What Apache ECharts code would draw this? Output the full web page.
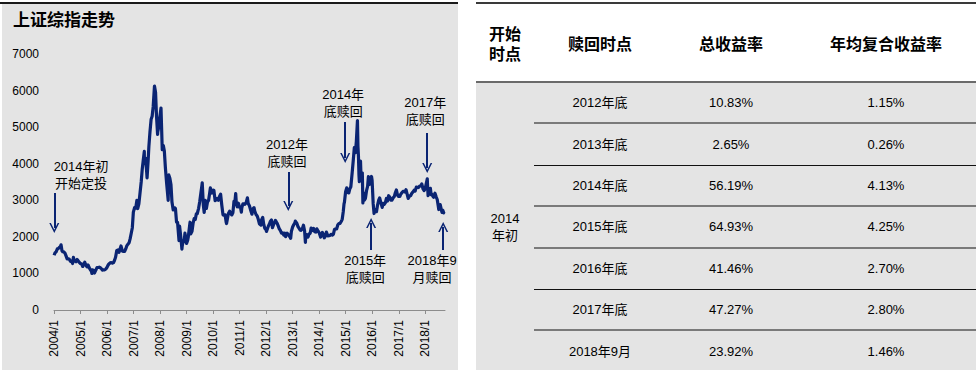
<!DOCTYPE html>
<html><head><meta charset="utf-8">
<script src="https://cdn.jsdelivr.net/npm/echarts@6/dist/echarts.min.js"></script>
<style>
body{margin:0;width:976px;height:375px;position:relative;overflow:hidden;background:#fff;font-family:"Liberation Sans","Noto Sans CJK SC",sans-serif;}
#panel{position:absolute;left:2px;top:4px;width:456px;height:366px;background:#e4e4e4;}
#panelTop{position:absolute;left:0;top:2px;width:458px;height:2px;background:#1a1a1a;}
#chart{position:absolute;left:0;top:0;width:460px;height:375px;}
.blk{position:absolute;}
.cell{position:absolute;display:flex;align-items:center;justify-content:center;text-align:center;color:#000;white-space:pre;}
.hd{font-family:"Noto Sans CJK SC",sans-serif;font-weight:bold;font-size:16px;line-height:20px;}
.bd{font-size:13px;line-height:17px;}
</style>
</head><body>
<div id="panelTop"></div>
<div id="panel"></div>
<div id="chart"></div>
<div id="table"></div>
<script>
// ---- chart data ----
const dates = [
'2004-01-02','2004-01-15','2004-01-30','2004-02-16','2004-02-27','2004-03-15','2004-03-31','2004-04-07','2004-04-20','2004-04-30','2004-05-14','2004-05-31','2004-06-15','2004-06-30','2004-07-15','2004-07-30','2004-08-16','2004-08-31','2004-09-13','2004-09-24','2004-09-30','2004-10-15','2004-10-29','2004-11-15','2004-11-30','2004-12-15','2004-12-31',
'2005-01-14','2005-01-31','2005-02-16','2005-02-28','2005-03-15','2005-03-31','2005-04-15','2005-04-29','2005-05-16','2005-05-31','2005-06-06','2005-06-10','2005-06-30','2005-07-11','2005-07-29','2005-08-15','2005-08-31','2005-09-15','2005-09-30','2005-10-14','2005-10-28','2005-11-15','2005-11-30','2005-12-15','2005-12-30',
'2006-01-16','2006-01-26','2006-02-15','2006-02-28','2006-03-15','2006-03-31','2006-04-14','2006-04-28','2006-05-15','2006-05-31','2006-06-15','2006-06-30','2006-07-12','2006-07-31','2006-08-15','2006-08-31','2006-09-15','2006-09-29','2006-10-16','2006-10-31','2006-11-15','2006-11-30','2006-12-15','2006-12-29',
'2007-01-15','2007-01-31','2007-02-16','2007-02-27','2007-03-15','2007-03-30','2007-04-16','2007-04-30','2007-05-15','2007-05-29','2007-05-30','2007-06-15','2007-06-29','2007-07-06','2007-07-20','2007-07-31','2007-08-15','2007-08-31','2007-09-14','2007-09-28','2007-10-16','2007-10-31','2007-11-13','2007-11-28','2007-11-30','2007-12-14','2007-12-28',
'2008-01-14','2008-01-31','2008-02-15','2008-02-29','2008-03-14','2008-03-31','2008-04-22','2008-04-25','2008-04-30','2008-05-15','2008-05-30','2008-06-13','2008-06-30','2008-07-15','2008-07-31','2008-08-15','2008-08-29','2008-09-18','2008-09-26','2008-10-15','2008-10-28','2008-10-31','2008-11-14','2008-11-28','2008-12-09','2008-12-31',
'2009-01-15','2009-01-23','2009-02-17','2009-02-27','2009-03-16','2009-03-31','2009-04-15','2009-04-30','2009-05-15','2009-05-27','2009-06-15','2009-06-30','2009-07-15','2009-07-31','2009-08-04','2009-08-19','2009-08-31','2009-09-15','2009-09-30','2009-10-15','2009-10-30','2009-11-13','2009-11-24','2009-11-30','2009-12-15','2009-12-31',
'2010-01-11','2010-01-29','2010-02-12','2010-02-26','2010-03-15','2010-03-31','2010-04-14','2010-04-30','2010-05-17','2010-05-31','2010-06-15','2010-06-30','2010-07-05','2010-07-30','2010-08-16','2010-08-31','2010-09-15','2010-09-30','2010-10-15','2010-10-29','2010-11-08','2010-11-17','2010-11-30','2010-12-15','2010-12-31',
'2011-01-14','2011-01-25','2011-01-31','2011-02-15','2011-02-28','2011-03-15','2011-03-31','2011-04-18','2011-04-29','2011-05-16','2011-05-31','2011-06-20','2011-06-30','2011-07-18','2011-07-29','2011-08-15','2011-08-31','2011-09-15','2011-09-30','2011-10-21','2011-10-31','2011-11-15','2011-11-30','2011-12-15','2011-12-30',
'2012-01-06','2012-01-31','2012-02-15','2012-02-29','2012-03-14','2012-03-28','2012-03-30','2012-04-16','2012-04-27','2012-05-08','2012-05-31','2012-06-15','2012-06-29','2012-07-16','2012-07-31','2012-08-15','2012-08-31','2012-09-14','2012-09-26','2012-09-28','2012-10-15','2012-10-31','2012-11-15','2012-11-30','2012-12-04','2012-12-14','2012-12-31',
'2013-01-15','2013-01-31','2013-02-06','2013-02-28','2013-03-15','2013-03-29','2013-04-15','2013-04-26','2013-05-15','2013-05-29','2013-06-14','2013-06-25','2013-06-28','2013-07-15','2013-07-31','2013-08-15','2013-08-30','2013-09-12','2013-09-30','2013-10-15','2013-10-31','2013-11-15','2013-11-29','2013-12-16','2013-12-31',
'2014-01-15','2014-01-20','2014-01-30','2014-02-14','2014-02-28','2014-03-12','2014-03-31','2014-04-10','2014-04-30','2014-05-15','2014-05-30','2014-06-16','2014-06-30','2014-07-15','2014-07-31','2014-08-15','2014-08-29','2014-09-15','2014-09-30','2014-10-15','2014-10-31','2014-11-14','2014-11-28','2014-12-09','2014-12-15','2014-12-31',
'2015-01-15','2015-01-30','2015-02-13','2015-02-27','2015-03-13','2015-03-31','2015-04-15','2015-04-30','2015-05-15','2015-05-28','2015-05-29','2015-06-12','2015-06-19','2015-06-26','2015-07-03','2015-07-08','2015-07-24','2015-07-31','2015-08-18','2015-08-26','2015-08-31','2015-09-15','2015-09-30','2015-10-15','2015-10-30','2015-11-10','2015-11-27','2015-11-30','2015-12-15','2015-12-23','2015-12-31',
'2016-01-15','2016-01-27','2016-01-29','2016-02-15','2016-02-29','2016-03-15','2016-03-31','2016-04-13','2016-04-29','2016-05-18','2016-05-31','2016-06-15','2016-06-30','2016-07-15','2016-07-29','2016-08-15','2016-08-31','2016-09-14','2016-09-30','2016-10-14','2016-10-31','2016-11-15','2016-11-29','2016-12-15','2016-12-30',
'2017-01-16','2017-01-26','2017-02-15','2017-02-28','2017-03-15','2017-03-31','2017-04-11','2017-04-28','2017-05-11','2017-05-31','2017-06-15','2017-06-30','2017-07-14','2017-07-31','2017-08-15','2017-08-31','2017-09-15','2017-09-29','2017-10-16','2017-10-31','2017-11-14','2017-11-30','2017-12-15','2017-12-29',
'2018-01-12','2018-01-29','2018-01-31','2018-02-09','2018-02-28','2018-03-13','2018-03-23','2018-03-30','2018-04-16','2018-04-27','2018-05-15','2018-05-31','2018-06-15','2018-06-29','2018-07-06','2018-07-26','2018-07-31','2018-08-15','2018-08-20','2018-08-31','2018-09-12','2018-09-14'
];
const closes = [
1497,1560,1590,1670,1675,1710,1742,1783,1620,1595,1590,1555,1480,1399,1400,1386,1330,1342,1270,1440,1396,1340,1320,1380,1340,1300,1266,
1260,1191,1250,1306,1230,1181,1230,1159,1100,1060,998,1100,1080,1010,1083,1160,1162,1170,1155,1130,1092,1100,1099,1120,1161,
1230,1258,1290,1299,1280,1298,1360,1440,1630,1641,1580,1672,1750,1612,1600,1601,1670,1752,1800,1837,1950,2099,2250,2675,
2800,2786,2998,2772,2900,3183,3500,3841,4100,4335,4050,4150,3820,3615,4060,4471,4870,5218,5300,5552,6124,5954,5300,4803,4871,5007,5261,
5522,4383,4500,4348,3900,3473,3000,3500,3693,3600,3433,2950,2736,2800,2775,2400,2397,1895,2293,1950,1665,1729,1900,1871,2100,1821,
1900,1991,2400,2082,2150,2373,2500,2477,2630,2632,2780,2959,3180,3412,3478,2870,2667,3000,2779,2950,2996,3180,3338,3195,3200,3277,
3273,2989,3018,3051,3000,3110,3166,2871,2600,2592,2600,2398,2363,2638,2700,2638,2600,2656,2970,2979,3186,2890,2820,2920,2808,
2800,2677,2791,2900,2905,2890,2928,3067,2911,2850,2743,2620,2762,2800,2701,2610,2568,2480,2359,2320,2468,2530,2333,2230,2199,
2148,2292,2350,2428,2460,2250,2263,2350,2396,2450,2373,2300,2225,2170,2103,2110,2047,2100,2004,2086,2100,2069,2020,1980,1959,2150,2269,
2330,2385,2432,2366,2280,2237,2180,2178,2230,2320,2160,1850,1979,2060,1994,2080,2098,2240,2175,2230,2141,2130,2220,2160,2116,
2030,1991,2033,2120,2056,1974,2033,2130,2026,2030,2039,2070,2048,2070,2202,2220,2217,2330,2364,2370,2420,2480,2683,2900,2950,3235,
3340,3210,3200,3310,3370,3748,4084,4442,4300,4620,4612,5178,4478,4192,3686,3507,4070,3664,3750,2927,3206,3005,3053,3262,3383,3650,3436,3445,3510,3651,3539,
2900,2638,2738,2750,2688,2870,3004,3066,2938,2807,2917,2890,2930,3050,2979,3125,3085,3002,3005,3064,3100,3206,3283,3140,3104,
3103,3159,3212,3242,3241,3223,3289,3155,3053,3117,3132,3192,3222,3273,3251,3361,3353,3349,3390,3393,3448,3317,3266,3307,
3429,3587,3481,3129,3259,3326,3152,3169,3110,3082,3192,3095,3022,2847,2747,2882,2876,2705,2668,2725,2656,2681
];
const yTicks = [0, 1000, 2000, 3000, 4000, 5000, 6000, 7000];
// annotations: arrow [date, fromValue, toValue], text [date, value, text]
const arrowDates  = ['2004-01-05','2012-11-01','2014-12-25','2018-01-28','2015-12-17','2018-09-05'];
const arrowFrom   = [3200, 3774, 5141, 4840, 1641, 1641];
const arrowTo     = [2242, 2844, 4156, 3883, 2379, 2270];
const noteDates   = ['2005-01-08','2012-10-15','2014-11-27','2018-01-01','2015-09-26','2018-04-05'];
const noteValues  = [3692, 4293, 5647, 5428, 1121, 1121];
const noteTexts   = ['2014年初\n开始定投','2012年\n底赎回','2014年\n底赎回','2017年\n底赎回','2015年\n底赎回','2018年9\n月赎回'];

// ---- table data ----
const tableHeaders  = ['开始\n时点','赎回时点','总收益率','年均复合收益率'];
const startPoint    = '2014\n年初';
const redeemPoints  = ['2012年底','2013年底','2014年底','2015年底','2016年底','2017年底','2018年9月'];
const totalReturns  = ['10.83%','2.65%','56.19%','64.93%','41.46%','47.27%','23.92%'];
const annualReturns = ['1.15%','0.26%','4.13%','4.25%','2.70%','2.80%','1.46%'];

// ---- chart ----
const NAVY = '#0a2473';
const chart = echarts.init(document.getElementById('chart'), null, {renderer:'svg'});
const chevron = 'path://M0,10 L5,0 L10,10 L8.4,10 L5,3.2 L1.6,10 Z';
chart.setOption({
  animation:false,
  title:{text:'上证综指走势', left:8, top:5,
    textStyle:{fontSize:17, fontWeight:'bold', color:'#000', fontFamily:'Noto Sans CJK SC'}},
  grid:{left:54, right:15, top:54, bottom:65},
  xAxis:{type:'time', min:'2004-01-01', max:'2018-09-30',
    minInterval:365*864e5, maxInterval:366*864e5,
    axisLine:{lineStyle:{color:'#8c8c8c', width:1}},
    axisTick:{show:true, length:4, lineStyle:{color:'#8c8c8c'}},
    splitLine:{show:false},
    axisLabel:{rotate:90, formatter:'{yyyy}/{M}', color:'#000', fontSize:12, margin:10,
      fontFamily:'Liberation Sans', hideOverlap:false}},
  yAxis:{type:'value', min:yTicks[0], max:yTicks[yTicks.length-1], interval:1000,
    axisLine:{show:false}, axisTick:{show:false}, splitLine:{show:false},
    axisLabel:{color:'#000', fontSize:12, margin:15, fontFamily:'Liberation Sans',
      formatter:(v)=>String(v)}},
  series:[{
    type:'line', showSymbol:false, silent:true,
    data: dates.map((d,i)=>[d, closes[i]]),
    lineStyle:{color:NAVY, width:3.2, join:'round'},
    markLine:{silent:true, symbol:['none', chevron], symbolSize:[10,10],
      lineStyle:{color:NAVY, width:2, type:'solid'}, label:{show:false},
      emphasis:{disabled:true},
      data: arrowDates.map((d,i)=>[{coord:[d, arrowFrom[i]]},{coord:[d, arrowTo[i]]}])},
    markPoint:{silent:true, symbolSize:0, itemStyle:{color:'transparent'},
      label:{show:true, position:'inside', color:'#000', fontSize:13, lineHeight:17,
        fontFamily:'Liberation Sans, Noto Sans CJK SC'},
      data: noteDates.map((d,i)=>({coord:[d, noteValues[i]], value:noteTexts[i],
        label:{formatter:noteTexts[i]}}))}
  }]
});

// ---- table ----
const T = document.getElementById('table');
function blk(l,t,w,h,bg){const e=document.createElement('div');e.className='blk';
  Object.assign(e.style,{left:l+'px',top:t+'px',width:w+'px',height:h+'px',background:bg});T.appendChild(e);return e;}
function cell(l,t,w,h,txt,cls){const e=document.createElement('div');e.className='cell '+cls;
  Object.assign(e.style,{left:l+'px',top:t+'px',width:w+'px',height:h+'px'});e.textContent=txt;T.appendChild(e);return e;}
const colX = [476, 534, 666, 796, 976];
const bodyTop = 82, rowH = 41.4, nRows = redeemPoints.length;
blk(476, 2, 500, 2, '#3a3a3a');
blk(476, bodyTop, 500, 370-bodyTop, '#e4e4e4');
blk(476, bodyTop-1, 500, 2, '#6a6a6a');
tableHeaders.forEach((h,i)=>cell(colX[i], 4, colX[i+1]-colX[i], 78, h, 'hd'));
cell(colX[0], bodyTop, colX[1]-colX[0], rowH*nRows, startPoint, 'bd');
const sepStyle = ['g','k','g','g','k','g'];
for(let r=0;r<nRows;r++){
  const top = bodyTop + r*rowH;
  cell(colX[1], top, colX[2]-colX[1], rowH, redeemPoints[r], 'bd');
  cell(colX[2], top, colX[3]-colX[2], rowH, totalReturns[r], 'bd');
  cell(colX[3], top, colX[4]-colX[3], rowH, annualReturns[r], 'bd');
  if(r<nRows-1){
    const y = bodyTop + (r+1)*rowH;
    if(sepStyle[r]==='g') blk(534, Math.round(y)-1, 442, 2, '#7a7a7a');
    else blk(534, Math.round(y), 442, 1, '#111');
  }
}
</script>
</body></html>
